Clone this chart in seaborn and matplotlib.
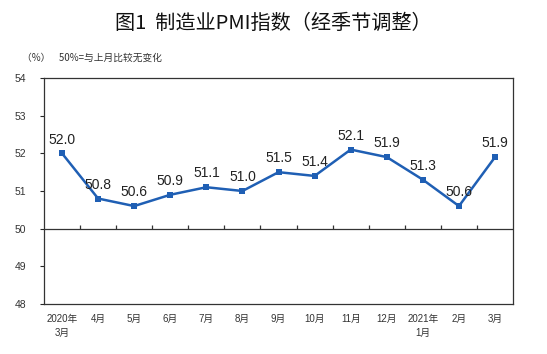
import matplotlib
matplotlib.use('Agg')
import matplotlib.pyplot as plt
import seaborn as sns
import pandas as pd

# 데이터
months = ['2020年\n3月', '4月', '5月', '6月', '7月', '8月', '9月',
          '10月', '11月', '12月', '2021年\n1月', '2月', '3月']
pmi = [52.0, 50.8, 50.6, 50.9, 51.1, 51.0, 51.5, 51.4, 52.1, 51.9, 51.3, 50.6, 51.9]
y_ticks = [48, 49, 50, 51, 52, 53, 54]

df = pd.DataFrame({'idx': range(len(months)), 'month': months, 'pmi': pmi})

sns.set_style('white')
plt.rcParams['font.family'] = ['Liberation Sans', 'Noto Sans CJK SC', 'DejaVu Sans']

fig = plt.figure(figsize=(5.47, 3.54), dpi=100)
ax = fig.add_axes([0.0804, 0.1412, 0.8576, 0.6385])

blue = '#1F5FB4'
sns.lineplot(x='idx', y='pmi', data=df, ax=ax, color=blue, linewidth=1.8,
             marker='s', markersize=4.5, markeredgewidth=0)

for i, v in enumerate(pmi):
    ax.text(i, v + 0.18, f'{v:.1f}', ha='center', va='bottom', fontsize=10,
            color='#222222', family=['Liberation Sans'])

# 50 기준선 + 위쪽 눈금
ax.axhline(50, color='#333333', linewidth=0.9)
ax.vlines([i + 0.5 for i in range(len(months) - 1)], 50, 50.1,
          color='#333333', linewidth=0.9)

ax.set_xlim(-0.5, len(months) - 0.5)
ax.set_ylim(48, 54)
ax.set_yticks(y_ticks)
ax.set_yticklabels([str(t) for t in y_ticks], fontsize=7.5, color='#333333')
ax.set_xticks(range(len(months)))
ax.set_xticklabels(months, fontsize=7, color='#333333', linespacing=1.5,
                   va='top')
ax.tick_params(axis='x', length=0, pad=7)
ax.tick_params(axis='y', length=3, width=0.8, direction='out', left=True, pad=10)
ax.set_xlabel('')
ax.set_ylabel('')
for s in ax.spines.values():
    s.set_color('#333333')
    s.set_linewidth(0.9)

fig.text(0.5, 0.935, '图1  制造业PMI指数（经季节调整）', ha='center', va='center',
         fontsize=14.5, fontweight='medium', family=['Noto Sans CJK SC'], color='#111111')
fig.text(0.04, 0.838, '（%）    50%=与上月比较无变化', ha='left', va='center',
         fontsize=7, family=['Noto Sans CJK SC'], color='#333333')

plt.savefig('out.png', dpi=100)
